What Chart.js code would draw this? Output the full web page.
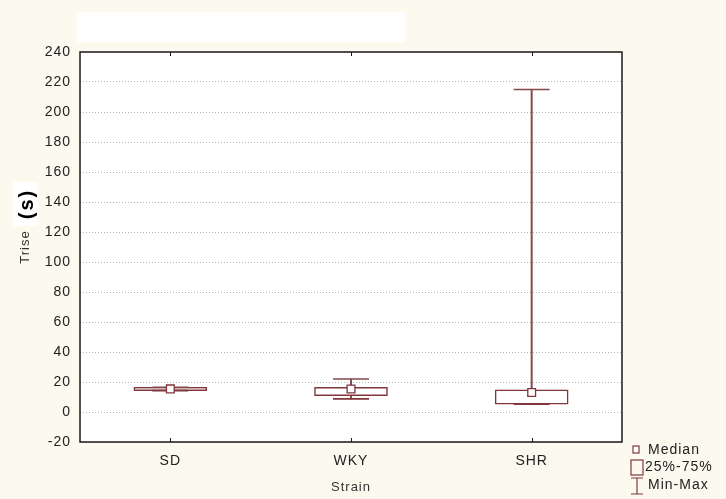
<!DOCTYPE html>
<html>
<head>
<meta charset="utf-8">
<script src="https://cdn.jsdelivr.net/npm/chart.js@4.4.1/dist/chart.umd.min.js"></script>
<style>
  html, body { margin: 0; padding: 0; background: #fcf9ef; }
  #wrap { width: 726px; height: 499px; }
</style>
</head>
<body>
<div id="wrap"><canvas id="c" width="726" height="499"></canvas></div>
<script>
// Rise time per strain: min, quartiles, median, max
const categories = ['SD', 'WKY', 'SHR'];
const minVals    = [14.3, 8.7, 5.2];
const q1Vals     = [14.3, 10.9, 5.3];
const medVals    = [15.4, 15.3, 13.0];
const q3Vals     = [16.5, 16.5, 14.7];
const maxVals    = [16.5, 22.0, 215.0];
const yTicks     = [-20, 0, 20, 40, 60, 80, 100, 120, 140, 160, 180, 200, 220, 240];

const BOX = '#80363a';
const WHISK = '#86484a';
const FONT = '"Liberation Sans", Arial, sans-serif';

const boxRanges = categories.map((_, i) => [q1Vals[i], q3Vals[i]]);
const whiskerRanges = categories.map((_, i) => [minVals[i], maxVals[i]]);

const frame = {
  id: 'frame',
  beforeInit(chart) {
    chart.ctx.letterSpacing = '1px';
  },
  beforeDraw(chart) {
    const { ctx, chartArea: a } = chart;
    ctx.letterSpacing = '1px';
    ctx.save();
    ctx.fillStyle = '#fcf9ef';
    ctx.fillRect(0, 0, chart.width, chart.height);
    ctx.fillStyle = '#ffffff';
    ctx.fillRect(a.left, a.top, a.right - a.left, a.bottom - a.top);
    // blank header strip
    ctx.fillRect(77, 12, 328, 30);
    // backing for the unit label
    ctx.fillRect(13, 182, 25, 44);
    ctx.restore();
  },
  afterDraw(chart) {
    const { ctx, chartArea: a } = chart;
    const xs = chart.scales.x;
    ctx.save();
    ctx.strokeStyle = '#1a1a1a';
    ctx.lineWidth = 1.5;
    ctx.strokeRect(a.left, a.top, a.right - a.left, a.bottom - a.top);
    // inner category ticks on top and bottom edges
    ctx.lineWidth = 1;
    categories.forEach((_, i) => {
      const x = Math.round(xs.getPixelForTick(i)) + 0.5;
      ctx.beginPath();
      ctx.moveTo(x, a.bottom); ctx.lineTo(x, a.bottom - 4);
      ctx.moveTo(x, a.top); ctx.lineTo(x, a.top + 4);
      ctx.stroke();
    });
    // unit label
    ctx.translate(27, 204);
    ctx.rotate(-Math.PI / 2);
    ctx.fillStyle = '#000';
    ctx.font = 'bold 20px ' + FONT;
    ctx.letterSpacing = '2px';
    ctx.textAlign = 'center';
    ctx.textBaseline = 'middle';
    ctx.fillText('(s)', 0, 0);
    ctx.restore();

    // legend
    ctx.save();
    ctx.strokeStyle = BOX;
    ctx.fillStyle = '#fff';
    ctx.lineWidth = 1.2;
    ctx.fillRect(633, 446, 6, 7);
    ctx.strokeRect(633, 446, 6, 7);
    ctx.strokeRect(631, 460, 12, 15);
    ctx.beginPath();
    ctx.moveTo(631, 478); ctx.lineTo(643, 478);
    ctx.moveTo(637, 478); ctx.lineTo(637, 494);
    ctx.moveTo(631, 494); ctx.lineTo(643, 494);
    ctx.stroke();
    ctx.fillStyle = '#222';
    ctx.font = '14px ' + FONT;
    ctx.letterSpacing = '1px';
    ctx.textBaseline = 'middle';
    ctx.fillText('Median', 648, 450);
    ctx.fillText('25%-75%', 645, 467);
    ctx.fillText('Min-Max', 648, 485);
    ctx.restore();
  }
};

new Chart(document.getElementById('c'), {
  data: {
    labels: categories,
    datasets: [
      {
        type: 'bar', label: 'Min-Max', data: whiskerRanges, grouped: false,
        barThickness: 1.3, backgroundColor: WHISK, borderWidth: 0, order: 3
      },
      {
        type: 'bar', label: '25%-75%', data: boxRanges, grouped: false,
        barThickness: 73, backgroundColor: '#ffffff', borderColor: BOX,
        borderWidth: 1.5, borderSkipped: false, order: 2
      },
      {
        type: 'line', label: 'Max', data: maxVals, showLine: false,
        pointStyle: 'line', pointRadius: 18, borderColor: WHISK, borderWidth: 1.5, order: 1
      },
      {
        type: 'line', label: 'Min', data: minVals, showLine: false,
        pointStyle: 'line', pointRadius: 18, borderColor: BOX, borderWidth: 1.8, order: 1
      },
      {
        type: 'line', label: 'Median', data: medVals, showLine: false,
        pointStyle: 'rect', pointRadius: 5.5, backgroundColor: '#ffffff',
        borderColor: BOX, borderWidth: 1.3, order: 0
      }
    ]
  },
  options: {
    responsive: false,
    animation: false,
    layout: { padding: { left: 0, top: 52, right: 104, bottom: 0 } },
    plugins: { legend: { display: false }, tooltip: { enabled: false }, title: { display: false } },
    scales: {
      x: {
        type: 'category',
        offset: true,
        grid: { display: false, drawTicks: false },
        border: { display: false },
        ticks: { color: '#222', font: { family: FONT, size: 14 }, padding: 11 },
        title: { display: true, text: 'Strain', color: '#333', font: { family: FONT, size: 13 }, padding: { top: 4 } },
        afterFit(s) { s.height = 57; }
      },
      y: {
        min: -20, max: 240,
        afterBuildTicks(s) { s.ticks = yTicks.map(v => ({ value: v })); },
        grid: { color: '#b4b4b4', lineWidth: 1, drawTicks: false },
        border: { display: false, dash: [1, 2] },
        ticks: { color: '#222', font: { family: FONT, size: 14 }, padding: 9 },
        title: { display: true, text: 'Trise', color: '#333', font: { family: FONT, size: 13 }, padding: { top: 18, bottom: 0 } },
        afterFit(s) { s.width = 80; }
      }
    }
  },
  plugins: [frame]
});
</script>
</body>
</html>
